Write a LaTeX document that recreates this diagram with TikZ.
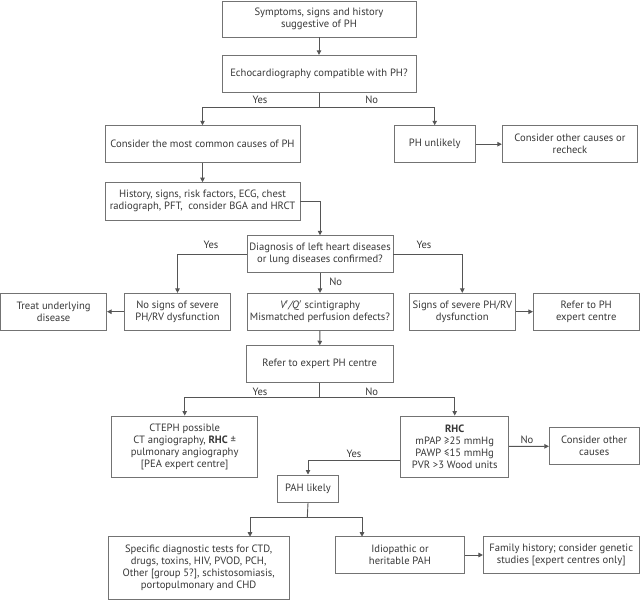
\documentclass[tikz,border=0pt]{standalone}
\usepackage{fontspec}
\setmainfont{PT Sans}
\usetikzlibrary{arrows.meta}
\definecolor{txt}{RGB}{55,55,55}
\definecolor{ln}{RGB}{85,85,85}
\definecolor{bd}{RGB}{115,115,115}
\begin{document}
\begin{tikzpicture}[x=1pt,y=-1pt,
  box/.style={draw=bd, line width=0.9pt, inner sep=0pt, align=center, text=txt, font=\fontsize{10.6}{12}\selectfont},
  arr/.style={draw=ln, line width=0.9pt, -{Triangle[length=4.5pt,width=4.5pt]}},
  ln/.style={draw=ln, line width=0.9pt},
  lbl/.style={text=txt, font=\fontsize{10.6}{12}\selectfont, inner sep=0pt}]
\useasboundingbox (0,0) rectangle (640,600);

\node[box, minimum width=194pt, minimum height=36pt] (sym) at (319,19) {Symptoms, signs and history\\suggestive of PH};
\node[box, minimum width=194pt, minimum height=37pt] (echo) at (319,73.8) {Echocardiography compatible with PH?};
\node[box, minimum width=195pt, minimum height=37pt] (common) at (202.5,144.2) {Consider the most common causes of PH};
\node[box, minimum width=80.7pt, minimum height=37pt] (unlikely) at (434.7,144.2) {PH unlikely};
\node[box, minimum width=135.4pt, minimum height=37pt] (other1) at (570,144.2) {Consider other causes or\\recheck};
\node[box, minimum width=195pt, minimum height=37.3pt] (history) at (202.5,201.3) {History, signs, risk factors, ECG, chest\\radiograph, PFT,\ \ consider BGA and HRCT};
\node[box, minimum width=146pt, minimum height=36.6pt] (diag) at (320,254) {Diagnosis of left heart diseases\\or lung diseases confirmed?};
\node[box, minimum width=106pt, minimum height=36.7pt] (treat) at (53.6,311.7) {Treat underlying\\disease};
\node[box, minimum width=106.4pt, minimum height=36.7pt] (nosigns) at (177.5,311.7) {No signs of severe\\PH/RV dysfunction};
\node[box, minimum width=146pt, minimum height=36.7pt] (vq) at (320,311.7) {\textit{V$'$/Q$'$} scintigraphy\\Mismatched perfusion defects?};
\node[box, minimum width=106.7pt, minimum height=36.7pt] (signs) at (462.3,311.7) {Signs of severe PH/RV\\dysfunction};
\node[box, minimum width=105.7pt, minimum height=36.7pt] (refer1) at (586.2,311.7) {Refer to PH\\expert centre};
\node[box, minimum width=147.3pt, minimum height=36.6pt] (expert) at (319.7,364) {Refer to expert PH centre};
\node[box, minimum width=146pt, minimum height=61pt] (cteph) at (184.7,446.5) {CTEPH possible\\CT angiography, \textbf{RHC} ±\\pulmonary angiography\\{[}PEA expert centre{]}};
\node[box, minimum width=108pt, minimum height=61pt] (rhc) at (454.7,446.5) {\textbf{RHC}\\mPAP ≥25 mmHg\\PAWP ≤15 mmHg\\PVR >3 Wood units};
\node[box, minimum width=89.7pt, minimum height=37pt] (other2) at (594.2,446.2) {Consider other\\causes};
\node[box, minimum width=61.4pt, minimum height=27.7pt] (pah) at (308,488.8) {PAH likely};
\node[box, minimum width=180.7pt, minimum height=62.6pt] (specific) at (198.7,568) {Specific diagnostic tests for CTD,\\drugs, toxins, HIV, PVOD, PCH,\\Other {[}group 5?{]}, schistosomiasis,\\portopulmonary and CHD};
\node[box, minimum width=128.6pt, minimum height=36.6pt] (idio) at (400,555) {Idiopathic or\\heritable PAH};
\node[box, minimum width=155.7pt, minimum height=36.6pt] (family) at (561.2,555) {Family history; consider genetic\\studies {[}expert centres only{]}};

% split points
\coordinate (s1) at (319,107.3);
\coordinate (s2) at (319.7,397.3);
\coordinate (s3) at (307.3,517.3);
\coordinate (t1) at (250,536.7);
\coordinate (t2) at (362,536.7);

\draw[arr] (sym) -- (echo);
\draw[ln] (echo.south) -- (s1);
\draw[arr] (s1) -| (common.north);
\draw[arr] (s1) -| (unlikely.north);
\node[lbl] at (260,100) {Yes};
\node[lbl] at (371.7,100) {No};
\draw[arr] (unlikely) -- (other1);
\draw[arr] (common) -- (history);
\draw[arr] (history.east) -| (diag.north);
\draw[arr] (diag.west) -| (nosigns.north);
\draw[arr] (diag.east) -| (signs.north);
\draw[arr] (diag) -- (vq);
\node[lbl] at (211,245.3) {Yes};
\node[lbl] at (424,245.3) {Yes};
\node[lbl] at (335.7,281.3) {No};
\draw[arr] (nosigns) -- (treat);
\draw[arr] (signs) -- (refer1);
\draw[arr] (vq) -- (expert);
\draw[ln] (expert.south) -- (s2);
\draw[arr] (s2) -| (cteph.north);
\draw[arr] (s2) -| (rhc.north);
\node[lbl] at (260,391.7) {Yes};
\node[lbl] at (371.7,391.7) {No};
\draw[arr] (rhc) -- (other2);
\node[lbl] at (527,440) {No};
\draw[arr] ([yshift=-13.8pt]rhc.west) -| (pah.north);
\node[lbl] at (354,453.7) {Yes};
\draw[ln] (pah.south) -- (s3);
\draw[arr] (s3) -| (t1);
\draw[arr] (s3) -| (t2);
\draw[arr] (idio) -- (family);
\end{tikzpicture}
\end{document}
